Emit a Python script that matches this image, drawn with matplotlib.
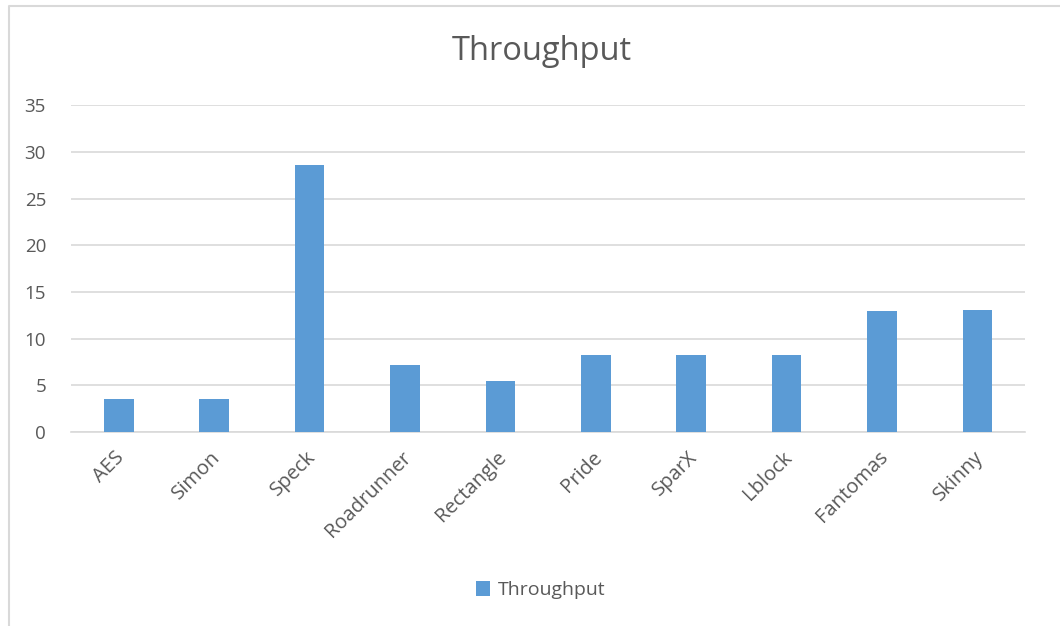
import matplotlib.pyplot as plt
from matplotlib.lines import Line2D
from matplotlib.transforms import ScaledTranslation

ciphers = ["AES", "Simon", "Speck", "Roadrunner", "Rectangle",
           "Pride", "SparX", "Lblock", "Fantomas", "Skinny"]
throughput = [3.57, 3.53, 28.55, 7.2, 5.46, 8.2, 8.2, 8.2, 12.99, 13.09]
yticks = [0, 5, 10, 15, 20, 25, 30, 35]

bar_color = "#5B9BD5"
text_color = "#595959"
grid_color = "#D9D9D9"

plt.rcParams['font.family'] = ['Open Sans', 'DejaVu Sans']

fig = plt.figure(figsize=(10.6, 6.26), dpi=100)
ax = fig.add_axes([0.067, 0.310, 0.900, 0.522])

# chart frame: only top and left edges show in the crop
fig.lines.append(Line2D([0.0085, 0.0085, 1.0], [0.0, 0.99, 0.99],
                        transform=fig.transFigure, color=grid_color, linewidth=1.5))

x = range(len(ciphers))
ax.bar(x, throughput, width=0.31, color=bar_color, label="Throughput", zorder=3)

ax.set_xlim(-0.5, len(ciphers) - 0.5)
ax.set_ylim(0, 35)
ax.set_yticks(yticks)
ax.yaxis.grid(True, color=grid_color, linewidth=1.2, zorder=0)
ax.set_axisbelow(True)

for s in ["top", "right", "left"]:
    ax.spines[s].set_visible(False)
ax.spines["bottom"].set_color(grid_color)
ax.spines["bottom"].set_linewidth(1.2)

ax.tick_params(axis="both", length=0, colors=text_color)
ax.tick_params(axis="x", labelsize=14.5, pad=11)
ax.tick_params(axis="y", labelsize=13.5, pad=18)
ax.set_xticks(list(x))
ax.set_xticklabels(ciphers, rotation=45, ha="right", rotation_mode="anchor")
shift = ScaledTranslation(-0.04, 0, fig.dpi_scale_trans)
for lbl in ax.get_xticklabels():
    lbl.set_transform(lbl.get_transform() + shift)

fig.text(0.511, 0.918, "Throughput", ha="center", va="center",
         fontsize=23.5, color=text_color)

fig.legend(loc="center", bbox_to_anchor=(0.51, 0.057), frameon=False,
           fontsize=14, labelcolor=text_color, handlelength=0.75, handleheight=0.75,
           handletextpad=0.4)

fig.savefig("out.png", dpi=100)
